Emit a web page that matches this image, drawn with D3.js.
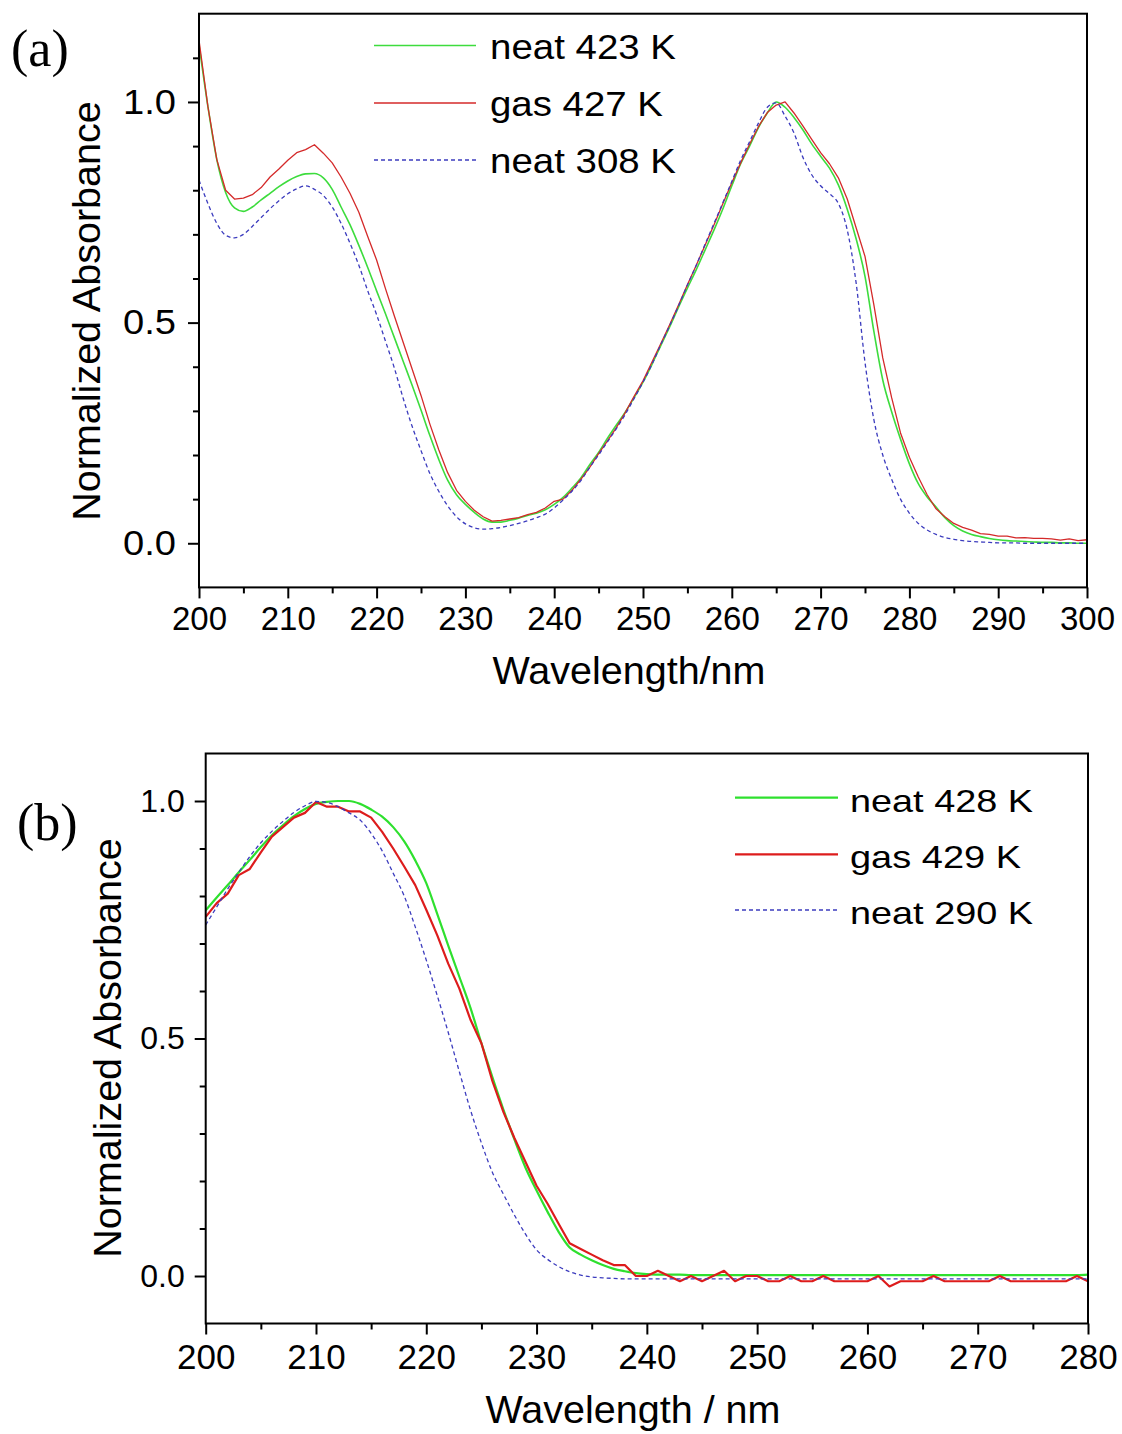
<!DOCTYPE html>
<html><head><meta charset="utf-8">
<script src="https://cdn.jsdelivr.net/npm/d3@7"></script>
<style>
body{margin:0;background:#fff}
text{font-family:"Liberation Sans",Arial,Helvetica,sans-serif;fill:#000}
</style>
</head><body>
<svg id="c" width="1122" height="1434"></svg>
<script>
// ---------- Panel (a) data : wavelength 200..300 nm, 1 nm step ----------
const wavelengthA = d3.range(200, 301, 1);
const neat423 = [1.13,0.99,0.87,0.795,0.76,0.752,0.762,0.778,0.793,0.808,
0.821,0.831,0.837,0.838,0.828,0.802,0.762,0.722,0.675,0.625,
0.572,0.52,0.466,0.412,0.358,0.302,0.244,0.19,0.143,0.11,
0.088,0.07,0.055,0.048,0.048,0.052,0.057,0.063,0.068,0.076,
0.088,0.104,0.125,0.148,0.178,0.206,0.238,0.268,0.297,0.33,
0.365,0.405,0.448,0.49,0.535,0.578,0.62,0.665,0.71,0.758,
0.81,0.86,0.9,0.942,0.975,1.0,0.988,0.965,0.937,0.905,
0.877,0.85,0.812,0.757,0.69,0.605,0.48,0.37,0.298,0.236,
0.18,0.135,0.105,0.082,0.058,0.04,0.028,0.02,0.015,0.011,
0.008,0.006,0.005,0.004,0.003,0.002,0.002,0.001,0.001,0.0,
0.0];
const gas427 = [1.14,0.99,0.87,0.80,0.78,0.782,0.79,0.806,0.83,0.848,
0.868,0.885,0.892,0.903,0.884,0.862,0.83,0.793,0.75,0.695,
0.642,0.577,0.515,0.455,0.395,0.335,0.27,0.212,0.16,0.12,
0.095,0.075,0.06,0.05,0.052,0.055,0.058,0.065,0.07,0.08,
0.095,0.1,0.12,0.145,0.172,0.203,0.232,0.262,0.296,0.333,
0.368,0.41,0.452,0.495,0.54,0.586,0.63,0.676,0.722,0.77,
0.817,0.862,0.904,0.944,0.976,0.993,1.0,0.975,0.946,0.915,
0.885,0.86,0.828,0.78,0.715,0.65,0.54,0.42,0.33,0.25,
0.195,0.15,0.11,0.078,0.06,0.045,0.036,0.03,0.022,0.02,
0.016,0.016,0.012,0.013,0.011,0.011,0.01,0.007,0.01,0.006,
0.008];
const neat308 = [0.823,0.77,0.725,0.698,0.692,0.7,0.718,0.738,0.758,0.776,
0.792,0.803,0.81,0.802,0.788,0.762,0.725,0.68,0.63,0.572,
0.518,0.458,0.397,0.328,0.265,0.21,0.158,0.118,0.085,0.06,
0.044,0.035,0.032,0.033,0.036,0.04,0.045,0.051,0.058,0.066,
0.08,0.098,0.118,0.142,0.172,0.2,0.23,0.26,0.292,0.328,
0.365,0.405,0.45,0.493,0.538,0.585,0.63,0.678,0.725,0.772,
0.82,0.868,0.91,0.952,0.988,0.998,0.968,0.93,0.875,0.835,
0.81,0.792,0.77,0.71,0.59,0.41,0.28,0.2,0.145,0.1,
0.068,0.045,0.03,0.02,0.013,0.009,0.006,0.004,0.003,0.002,
0.001,0.001,0.001,0.0,0.0,0.0,0.0,0.0,0.0,0.0,
0.0];
const legendA = ["neat 423 K", "gas 427 K", "neat 308 K"];
const xTicksA = [200,210,220,230,240,250,260,270,280,290,300];
const yTicksA = [0.0, 0.5, 1.0];

// ---------- Panel (b) data : wavelength 200..280 nm, 1 nm step ----------
const wavelengthB = d3.range(200, 281, 1);
const neat428 = [0.77,0.797,0.823,0.85,0.876,0.903,0.928,0.949,0.968,0.983,
0.994,0.998,1.0,1.0,0.994,0.982,0.967,0.945,0.915,0.875,
0.827,0.762,0.695,0.63,0.565,0.49,0.418,0.35,0.287,0.228,
0.18,0.135,0.093,0.06,0.045,0.033,0.023,0.015,0.01,0.006,
0.004,0.003,0.003,0.003,0.002,0.002,0.002,0.002,0.002,0.002,
0.002,0.002,0.002,0.002,0.002,0.002,0.002,0.002,0.002,0.002,
0.002,0.002,0.002,0.002,0.002,0.002,0.002,0.002,0.002,0.002,
0.002,0.002,0.002,0.002,0.002,0.002,0.002,0.002,0.002,0.002,
0.003];
const gas429 = [0.756,0.785,0.805,0.844,0.857,0.892,0.925,0.945,0.965,0.975,
0.998,0.988,0.988,0.978,0.978,0.965,0.935,0.9,0.862,0.823,
0.771,0.717,0.657,0.605,0.54,0.49,0.41,0.345,0.29,0.24,
0.19,0.152,0.11,0.069,0.057,0.045,0.033,0.023,0.023,0.0,
0.0,0.011,0.0,-0.011,0.0,-0.011,0.0,0.011,-0.011,0.0,
0.0,-0.011,-0.011,0.0,-0.011,-0.011,0.0,-0.011,-0.011,-0.011,
-0.011,0.0,-0.022,-0.011,-0.011,-0.011,0.0,-0.011,-0.011,-0.011,
-0.011,-0.011,0.0,-0.011,-0.011,-0.011,-0.011,-0.011,-0.011,0.0,
-0.011];
const neat290 = [0.739,0.777,0.815,0.85,0.883,0.912,0.936,0.957,0.976,0.99,
0.999,0.997,0.988,0.975,0.96,0.932,0.895,0.848,0.8,0.735,
0.665,0.59,0.512,0.43,0.35,0.28,0.218,0.172,0.128,0.088,
0.055,0.035,0.02,0.009,0.002,-0.002,-0.004,-0.005,-0.006,-0.006,
-0.006,-0.006,-0.006,-0.006,-0.006,-0.006,-0.006,-0.006,-0.006,-0.006,
-0.006,-0.006,-0.006,-0.006,-0.006,-0.006,-0.006,-0.006,-0.006,-0.006,
-0.006,-0.006,-0.006,-0.006,-0.006,-0.006,-0.006,-0.006,-0.006,-0.006,
-0.006,-0.006,-0.006,-0.006,-0.006,-0.006,-0.006,-0.006,-0.006,-0.006,
-0.006];
const legendB = ["neat 428 K", "gas 429 K", "neat 290 K"];
const xTicksB = [200,210,220,230,240,250,260,270,280];
const yTicksB = [0.0, 0.5, 1.0];

const svg = d3.select("#c");

function panel(cfg) {
  const g = svg.append("g");
  const x = d3.scaleLinear().domain(cfg.xDomain).range(cfg.xRange);
  const y = d3.scaleLinear().domain(cfg.yDomain).range(cfg.yRange);
  const [x0, x1] = cfg.xRange, [y0, y1] = cfg.yRange;

  const xMinor = d3.range(cfg.xDomain[0], cfg.xDomain[1] + 0.001, 5).filter(v => v % 10 !== 0);
  const yMinor = d3.range(-1, Math.round(cfg.yDomain[1] * 10)).map(v => v / 10)
    .filter(v => v > cfg.yDomain[0] + 1e-6 && v < cfg.yDomain[1] - 1e-6 && Math.abs(v * 2 - Math.round(v * 2)) > 1e-6);

  const styleAxis = (a, fs, tl) => {
    a.select(".domain").remove();
    a.selectAll("line").attr("stroke", "#000").attr("stroke-width", 2);
    const t = a.selectAll("text").attr("font-size", fs).attr("font-family", '"Liberation Sans",Arial,sans-serif').attr("fill", "#000");
    if (tl) t.attr("textLength", tl).attr("lengthAdjust", "spacingAndGlyphs");
    a.attr("font-family", null).attr("font-size", null);
  };

  g.append("g").attr("transform", `translate(0,${y0})`)
    .call(d3.axisBottom(x).tickValues(xMinor).tickSize(6).tickFormat(""))
    .call(a => styleAxis(a, 0));
  g.append("g").attr("transform", `translate(0,${y0})`)
    .call(d3.axisBottom(x).tickValues(cfg.xTicks).tickSize(11).tickPadding(cfg.xPad).tickFormat(d3.format("d")))
    .call(a => styleAxis(a, cfg.xFont));
  g.append("g").attr("transform", `translate(${x0},0)`)
    .call(d3.axisLeft(y).tickValues(yMinor).tickSize(6).tickFormat(""))
    .call(a => styleAxis(a, 0));
  g.append("g").attr("transform", `translate(${x0},0)`)
    .call(d3.axisLeft(y).tickValues(cfg.yTicks).tickSize(11).tickPadding(cfg.yPad).tickFormat(d3.format(".1f")))
    .call(a => styleAxis(a, cfg.yFont, cfg.yLabelLen));

  cfg.series.forEach(s => {
    const pts = cfg.wl.map((w, i) => [w, s.values[i]]);
    g.append("path").datum(pts)
      .attr("fill", "none")
      .attr("stroke", s.color)
      .attr("stroke-width", s.width)
      .attr("stroke-dasharray", s.dash || null)
      .attr("stroke-linejoin", "round")
      .attr("d", d3.line().x(d => x(d[0])).y(d => y(d[1])).curve(s.smooth ? d3.curveMonotoneX : d3.curveLinear));
  });

  g.append("rect").attr("x", x0).attr("y", y1).attr("width", x1 - x0).attr("height", y0 - y1)
    .attr("fill", "none").attr("stroke", "#000").attr("stroke-width", 2);

  cfg.series.forEach((s, i) => {
    const ly = cfg.legY[i];
    g.append("line").attr("x1", cfg.legX[0]).attr("x2", cfg.legX[1]).attr("y1", ly).attr("y2", ly)
      .attr("stroke", s.color).attr("stroke-width", s.width).attr("stroke-dasharray", s.dash || null);
    g.append("text").attr("x", cfg.legX[2]).attr("y", ly + cfg.legDy)
      .attr("font-size", cfg.legFont)
      .attr("textLength", cfg.legLen[i]).attr("lengthAdjust", "spacingAndGlyphs")
      .text(cfg.legend[i]);
  });

  g.append("text").attr("x", cfg.xTitle[0]).attr("y", cfg.xTitle[1]).attr("text-anchor", "middle")
    .attr("font-size", 39.5).text(cfg.xTitle[2]);
  g.append("text").attr("transform", `translate(${cfg.yTitle[0]},${cfg.yTitle[1]}) rotate(-90)`)
    .attr("text-anchor", "middle").attr("font-size", 39.5).text("Normalized Absorbance");

  g.append("text").attr("x", cfg.tag[0]).attr("y", cfg.tag[1])
    .style("font-family", '"Liberation Serif","Times New Roman",serif')
    .attr("font-size", 52).text(cfg.tag[2]);
}

panel({
  wl: wavelengthA, xDomain: [200, 300], yDomain: [-0.1, 1.2],
  xRange: [199, 1087], yRange: [587.4, 13.7],
  xTicks: xTicksA, yTicks: yTicksA, xFont: 33, yFont: 35, yLabelLen: 53, xPad: 8, yPad: 12,
  series: [
    {values: neat423, color: "#3ddc3d", width: 1.6, smooth: true},
    {values: gas427, color: "#d42a2a", width: 1.3, smooth: false},
    {values: neat308, color: "#3c3cbe", width: 1.3, dash: "4,3", smooth: true}
  ],
  legend: legendA, legLen: [186, 173, 186], legX: [374, 476, 490], legY: [45.5, 103, 160], legDy: 13,
  legFont: 35,
  xTitle: [629, 684, "Wavelength/nm"], yTitle: [100, 311], tag: [11, 66, "(a)"]
});

panel({
  wl: wavelengthB, xDomain: [200, 280], yDomain: [-0.1, 1.1],
  xRange: [205.7, 1088], yRange: [1323.5, 753.5],
  xTicks: xTicksB, yTicks: yTicksB, xFont: 35, yFont: 32, yLabelLen: null, xPad: 10, yPad: 10,
  series: [
    {values: neat428, color: "#2ee02e", width: 2.2, smooth: true},
    {values: gas429, color: "#dd1c1c", width: 2.2, smooth: false},
    {values: neat290, color: "#3c3cbe", width: 1.3, dash: "4,3", smooth: true}
  ],
  legend: legendB, legLen: [183, 171, 183], legX: [735, 838, 850], legY: [797.7, 854.3, 910], legDy: 14,
  legFont: 32,
  xTitle: [633, 1423, "Wavelength / nm"], yTitle: [121, 1048], tag: [17, 840, "(b)"]
});
</script>
</body></html>
